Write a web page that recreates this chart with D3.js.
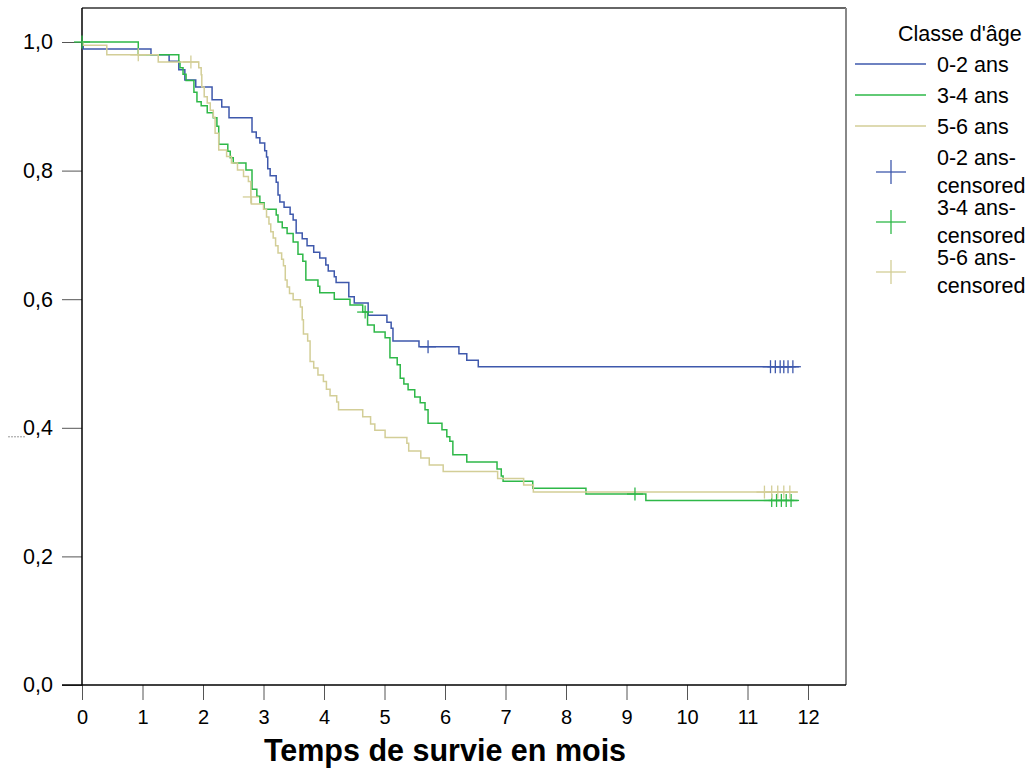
<!DOCTYPE html>
<html lang="fr">
<head>
<meta charset="UTF-8">
<title>Survie par classe d'âge</title>
<script src="https://d3js.org/d3.v7.min.js"></script>
<style>
  body { margin: 0; background: #fff; }
  text { font-family: "Liberation Sans", Arial, sans-serif; fill: #000; }
</style>
</head>
<body>
<div id="chart"></div>
<script>
// Kaplan-Meier steps: [time (months), survival]
const blueSteps = [[0,1.0],[0.02,0.989],[1.14,0.980],[1.44,0.970],[1.60,0.957],[1.70,0.941],[1.88,0.930],[2.15,0.910],[2.31,0.899],[2.43,0.882],[2.81,0.860],[2.88,0.851],[2.94,0.843],[3.02,0.831],[3.05,0.821],[3.07,0.803],[3.11,0.792],[3.21,0.782],[3.24,0.762],[3.27,0.751],[3.34,0.743],[3.44,0.732],[3.49,0.723],[3.54,0.703],[3.64,0.694],[3.72,0.683],[3.83,0.673],[3.93,0.664],[4.03,0.653],[4.07,0.644],[4.17,0.635],[4.20,0.626],[4.41,0.604],[4.50,0.594],[4.73,0.575],[5.04,0.564],[5.11,0.555],[5.14,0.535],[5.57,0.526],[6.23,0.515],[6.36,0.505],[6.55,0.495],[11.85,0.495]];
const greenSteps = [[0,1.0],[0.93,0.980],[1.60,0.969],[1.62,0.960],[1.67,0.950],[1.72,0.940],[1.85,0.922],[1.90,0.907],[1.97,0.901],[2.07,0.890],[2.17,0.882],[2.23,0.869],[2.26,0.841],[2.41,0.830],[2.45,0.820],[2.50,0.812],[2.71,0.801],[2.81,0.771],[2.89,0.760],[2.94,0.750],[3.01,0.740],[3.21,0.731],[3.24,0.720],[3.31,0.711],[3.39,0.702],[3.49,0.689],[3.57,0.670],[3.65,0.659],[3.70,0.630],[3.90,0.620],[3.93,0.610],[4.17,0.600],[4.43,0.591],[4.64,0.580],[4.72,0.560],[4.83,0.549],[5.01,0.540],[5.09,0.509],[5.21,0.498],[5.26,0.477],[5.32,0.468],[5.39,0.459],[5.50,0.448],[5.59,0.439],[5.67,0.428],[5.72,0.407],[5.95,0.397],[6.03,0.386],[6.08,0.379],[6.13,0.358],[6.36,0.347],[6.86,0.336],[6.93,0.325],[6.96,0.317],[7.45,0.306],[8.33,0.297],[9.32,0.287],[11.83,0.287]];
const tanSteps = [[0,1.0],[0.02,0.995],[0.41,0.980],[1.26,0.969],[1.93,0.960],[1.97,0.949],[1.98,0.930],[2.02,0.915],[2.07,0.905],[2.12,0.894],[2.17,0.883],[2.20,0.858],[2.26,0.832],[2.39,0.822],[2.47,0.812],[2.57,0.801],[2.67,0.791],[2.75,0.783],[2.79,0.759],[2.80,0.748],[3.00,0.740],[3.05,0.728],[3.09,0.717],[3.12,0.705],[3.16,0.695],[3.20,0.683],[3.24,0.672],[3.30,0.662],[3.33,0.652],[3.36,0.630],[3.39,0.619],[3.43,0.609],[3.49,0.599],[3.61,0.588],[3.64,0.568],[3.66,0.546],[3.73,0.535],[3.77,0.503],[3.83,0.493],[3.90,0.482],[3.99,0.472],[4.04,0.460],[4.10,0.450],[4.21,0.440],[4.24,0.428],[4.64,0.417],[4.77,0.406],[4.84,0.396],[5.01,0.385],[5.37,0.376],[5.40,0.364],[5.60,0.353],[5.74,0.342],[5.97,0.332],[6.87,0.321],[7.30,0.311],[7.46,0.300],[11.83,0.300]];

// censored times per group
const blueCensored = [5.72, 11.38, 11.46, 11.54, 11.60, 11.67, 11.75];
const greenCensored = [0, 4.68, 9.14, 11.40, 11.48, 11.56, 11.64, 11.72];
const tanCensored = [0.93, 1.80, 2.79, 11.28, 11.40, 11.50, 11.60, 11.70];

const groups = ["0-2 ans", "3-4 ans", "5-6 ans"];
const colors = ["#3e58ac", "#2eb848", "#d3ce97"];
const xTicks = d3.range(0, 13);
const yTicks = [0, 0.2, 0.4, 0.6, 0.8, 1.0];

const series = [
    { name: groups[0], steps: blueSteps, censored: blueCensored, color: colors[0] },
    { name: groups[1], steps: greenSteps, censored: greenCensored, color: colors[1] },
    { name: groups[2], steps: tanSteps, censored: tanCensored, color: colors[2] }
];

const width = 1026, height = 768;
const plotLeft = 82, plotRight = 846, plotTop = 8, plotBottom = 685;

const svg = d3.select("#chart").append("svg")
    .attr("width", width)
    .attr("height", height);

const x = d3.scaleLinear().domain([0, 12]).range([82, 808]);
const y = d3.scaleLinear().domain([0, 1]).range([plotBottom, 42]);

// frame (top and right are the plot border)
svg.append("line").attr("x1", plotLeft).attr("x2", plotRight).attr("y1", plotTop).attr("y2", plotTop)
    .attr("stroke", "#333").attr("stroke-width", 1.5);
svg.append("line").attr("x1", plotRight).attr("x2", plotRight).attr("y1", plotTop).attr("y2", plotBottom)
    .attr("stroke", "#888").attr("stroke-width", 2);

// y axis
const yAxis = svg.append("g").attr("transform", `translate(${plotLeft},0)`)
    .call(d3.axisLeft(y).tickValues(yTicks).tickSize(20).tickPadding(9)
        .tickFormat(d => d3.format(".1f")(d).replace(".", ",")));
yAxis.select(".domain").remove();
yAxis.selectAll(".tick line").attr("stroke", "#555");
yAxis.selectAll("text").attr("font-size", 21.5).attr("font-family", "Liberation Sans, Arial, sans-serif");
svg.append("line").attr("x1", plotLeft).attr("x2", plotLeft).attr("y1", plotTop).attr("y2", plotBottom)
    .attr("stroke", "#000").attr("stroke-width", 1.5);

// x axis
const xAxis = svg.append("g").attr("transform", `translate(0,${plotBottom})`)
    .call(d3.axisBottom(x).tickValues(xTicks).tickSize(15).tickPadding(10));
xAxis.select(".domain").remove();
xAxis.selectAll(".tick line").attr("stroke", "#555");
xAxis.selectAll("text").attr("font-size", 20).attr("font-family", "Liberation Sans, Arial, sans-serif");
svg.append("line").attr("x1", 62).attr("x2", plotRight).attr("y1", plotBottom).attr("y2", plotBottom)
    .attr("stroke", "#000").attr("stroke-width", 1.5);

// little stray mark left of 0,4
svg.append("line").attr("x1", 8).attr("x2", 25).attr("y1", y(0.4) + 9).attr("y2", y(0.4) + 9)
    .attr("stroke", "#999").attr("stroke-width", 1).attr("stroke-dasharray", "2,1");

svg.append("text")
    .attr("x", 445).attr("y", 761)
    .attr("text-anchor", "middle")
    .attr("font-size", 30.5).attr("font-weight", "bold")
    .text("Temps de survie en mois");

// curves
const line = d3.line().x(d => x(d[0])).y(d => y(d[1])).curve(d3.curveStepAfter);

function valueAt(steps, t) {
    let v = steps[0][1];
    for (const s of steps) { if (s[0] <= t) v = s[1]; }
    return v;
}

const plot = svg.append("g");
series.forEach(s => {
    plot.append("path")
        .datum(s.steps)
        .attr("fill", "none")
        .attr("stroke", s.color)
        .attr("stroke-width", 1.5)
        .attr("d", line);
});
series.forEach(s => {
    const g = plot.append("g").attr("stroke", s.color).attr("stroke-width", 1.3);
    s.censored.forEach(t => {
        const cx = x(t), cy = y(valueAt(s.steps, t));
        g.append("line").attr("x1", cx - 8).attr("x2", cx + 8).attr("y1", cy).attr("y2", cy);
        g.append("line").attr("x1", cx).attr("x2", cx).attr("y1", cy - 6.5).attr("y2", cy + 6.5);
    });
});

// legend
const legend = svg.append("g").attr("font-size", 21.5);
legend.append("text").attr("x", 898).attr("y", 41).text("Classe d'âge");
series.forEach((s, i) => {
    const ly = 64 + i * 31;
    legend.append("line").attr("x1", 855).attr("x2", 926).attr("y1", ly).attr("y2", ly)
        .attr("stroke", s.color).attr("stroke-width", 1.3);
    legend.append("text").attr("x", 937).attr("y", ly + 8).text(s.name);
});
series.forEach((s, i) => {
    const cy = 172 + i * 50;
    legend.append("line").attr("x1", 876).attr("x2", 906).attr("y1", cy).attr("y2", cy)
        .attr("stroke", s.color).attr("stroke-width", 1.3);
    legend.append("line").attr("x1", 891).attr("x2", 891).attr("y1", cy - 12).attr("y2", cy + 12)
        .attr("stroke", s.color).attr("stroke-width", 1.3);
    legend.append("text").attr("x", 937).attr("y", cy - 7).text(s.name + "-");
    legend.append("text").attr("x", 937).attr("y", cy + 21).text("censored");
});
</script>
</body>
</html>
